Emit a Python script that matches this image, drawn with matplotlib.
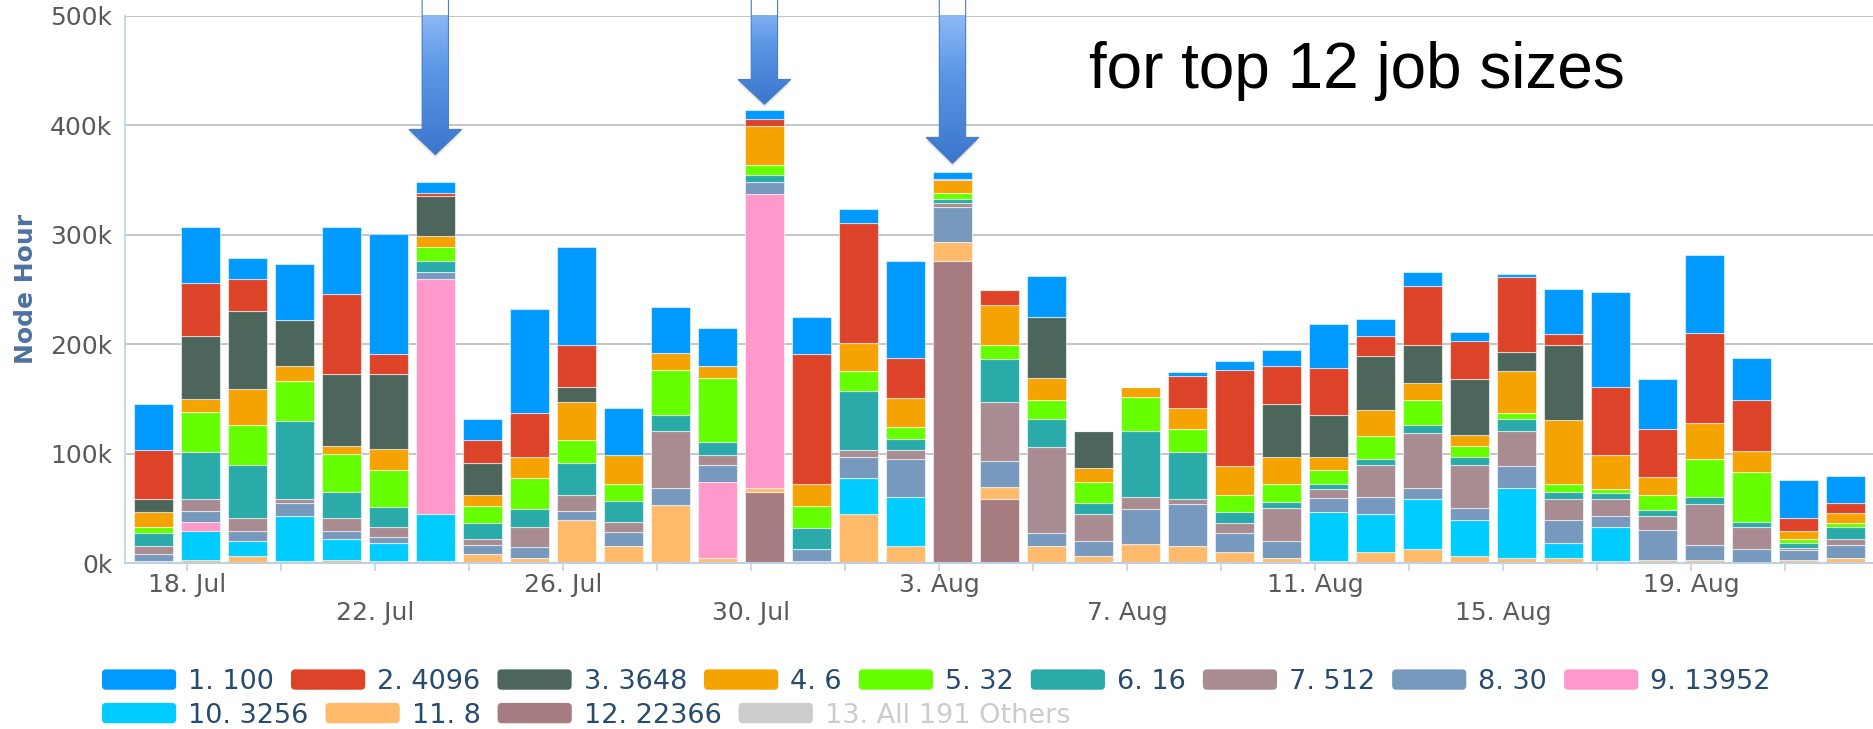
import numpy as np
import matplotlib
matplotlib.use('Agg')
import matplotlib.pyplot as plt
from matplotlib.patches import Polygon, FancyBboxPatch, Patch
from matplotlib.legend_handler import HandlerPatch
from matplotlib.colors import LinearSegmentedColormap

# Daily node hours (in thousands) per job size, 17 Jul .. 22 Aug (37 days)
h100 = [41.4, 51.1, 19, 51.3, 61.4, 109.4, 9.9, 18.7, 95.1, 89.1, 43.5, 41.8, 35, 7.4, 33.9, 13.6, 88.5, 5.8, 0,
        37.7, 0, 0, 3.7, 8.3, 14.5, 39.6, 15.7, 13.6, 8.5, 3, 40.8, 86.6, 45.3, 71.6, 38.7, 34.6, 24.5]
h4096 = [45.3, 48.3, 29, 0, 72.9, 18.2, 2.5, 21.1, 39.8, 38.3, 0, 0, 0, 6.6, 118.6, 108.8, 37.2, 1.5, 12.9,
         0, 0, 0, 29.4, 88.2, 35, 43.7, 18.9, 53.5, 34.9, 68.7, 10.6, 62.5, 44.4, 81.7, 46.9, 12.2, 9.8]
h3648 = [12, 57.5, 71.2, 42, 65.8, 68.9, 36.8, 29.1, 0, 13.8, 0, 0, 0, 0, 0, 0, 0, 0, 0,
         55.4, 34.6, 0, 0, 0, 48.1, 38, 49, 34.6, 50.5, 17.4, 68.8, 0, 0, 0, 0, 0, 0]
h6 = [13.7, 12, 33.1, 13.5, 7.1, 19.3, 10.6, 10.1, 19.3, 34.9, 26, 15.6, 10.4, 36.2, 20.5, 26.4, 26.1, 11.4, 36.9,
      20.5, 12.3, 8.6, 19, 26, 24.5, 12.3, 23.9, 15.6, 10.1, 38.3, 57.9, 30.9, 15.9, 33.1, 19.3, 7.4, 8.5]
h32 = [5.2, 36.7, 36.2, 36.7, 34.6, 33, 12.1, 16, 28.2, 20.8, 15.6, 41.6, 59.1, 9.1, 19.6, 17.8, 10.7, 5.5, 12.9,
       17.8, 19.3, 31.2, 21.1, 16, 16.3, 12.2, 20.9, 23, 10.4, 5.5, 7.1, 3.7, 13.8, 34.9, 45, 3, 4.3]
h16 = [12, 43.2, 49, 71.1, 24.5, 19, 10.5, 14.4, 16.8, 29.4, 19, 14.1, 12, 6, 19, 53.6, 10.1, 3.6, 39.2,
       25.4, 10.1, 60.7, 43.2, 10.1, 6.1, 4.9, 5.2, 7.1, 7.1, 10.1, 7, 5.5, 5.5, 6.4, 5.2, 4.9, 10.8]
h512 = [6.7, 10.4, 11.9, 3.4, 11.9, 8.9, 0, 4.9, 17.5, 14.1, 9.2, 51.8, 8.6, 0, 0, 6.7, 8.6, 3.6, 53.9,
        78.1, 24.5, 10.4, 4.6, 8.5, 29.7, 7.7, 29.7, 49.9, 39.8, 32.8, 19, 15.3, 12.3, 36.8, 19.3, 1.5, 4.9]
h30 = [6.8, 10.1, 8.3, 12.2, 7.1, 4.9, 6.4, 8.2, 10.1, 8.6, 13.2, 15.6, 15.6, 11.4, 11.7, 19.3, 34.9, 32, 23.9,
       12.3, 13.5, 32.4, 38.3, 17.5, 15.3, 13.5, 15.3, 10.7, 10.4, 19.3, 20.5, 10.4, 27.5, 13.7, 13.2, 9.2, 11.9]
h13952 = [0, 8.6, 0, 0, 0, 0, 214.5, 0, 0, 0, 0, 0, 69.2, 267.7, 0, 0, 0, 0, 0,
          0, 0, 0, 0, 0, 0, 0, 0, 0, 0, 0, 0, 0, 0, 0, 0, 0, 0]
h3256 = [0, 26, 13.8, 41.4, 18.6, 17.2, 43.2, 0, 0, 0, 0, 0, 0, 0, 0, 32.8, 44.7, 0, 0,
         0, 0, 0, 0, 0, 0, 44.7, 34.6, 45, 32.8, 64, 13.8, 31, 0, 0, 0, 0, 0]
h8 = [1.8, 3.1, 6.7, 1.5, 3.1, 1.5, 1.5, 8.6, 4.9, 39.2, 15.3, 53.3, 4.9, 3.7, 1.5, 44.7, 15.3, 17.3, 11,
      15.3, 6.7, 17.2, 15.3, 10.1, 4.9, 1.5, 10.1, 13.2, 6.7, 4.9, 4.9, 1.5, 3.1, 3.1, 0, 3.1, 4.9]
h22366 = [0, 0, 0, 0, 0, 0, 0, 0, 0, 0, 0, 0, 0, 65.2, 0, 0, 0, 276.1, 58.2,
          0, 0, 0, 0, 0, 0, 0, 0, 0, 0, 0, 0, 0, 0, 0, 0, 0, 0]

series = [h100, h4096, h3648, h6, h32, h16, h512, h30, h13952, h3256, h8, h22366]
labels = ['1. 100', '2. 4096', '3. 3648', '4. 6', '5. 32', '6. 16', '7. 512', '8. 30',
          '9. 13952', '10. 3256', '11. 8', '12. 22366', '13. All 191 Others']
colors = ['#0099FF', '#DD4328', '#4D665B', '#F5A300', '#66FF00', '#2BAAAA', '#A88C91', '#7799BD',
          '#FF99CC', '#00CCFF', '#FFBB6B', '#A67C80', '#CCCCCC']

# tick marks every 2 days from 18 Jul; labelled every 4 days, staggered in two rows
tick_days = list(range(1, 37, 2))
tick_labels = ['18. Jul', '', '\n22. Jul', '', '26. Jul', '', '\n30. Jul', '', '3. Aug', '',
               '\n7. Aug', '', '11. Aug', '', '\n15. Aug', '', '19. Aug', '']
day_offset = 0.285  # bars sit a few hours after midnight

# arrows: (bar index, tip value, head base value)
arrows = [(6, 373, 396), (13, 419, 441.6), (17, 365, 388.7)]

fig = plt.figure(figsize=(18.74, 7.29), dpi=100)
ax = fig.add_axes([0.0667, 0.2277, 0.9333, 0.7510])

x = np.arange(len(h100))
bottom = np.zeros(len(x))
for vals, c in reversed(list(zip(series, colors[:12]))):
    vals = np.array(vals, dtype=float)
    ax.bar(x, vals, bottom=bottom, width=0.83, color=c, edgecolor=(1, 1, 1, 0.55), linewidth=0.8, zorder=2)
    bottom += vals

# gradient arrows with a soft shadow under the head
arrow_cmap = LinearSegmentedColormap.from_list('arr', ['#3A76CC', '#5C97E6', '#A9CDFF'])
grad = np.linspace(0, 1, 256).reshape(-1, 1)
for idx, tip, base in arrows:
    top, sw, hw = 530, 0.28, 0.56
    for k in range(1, 4):
        d = 1.2 * k
        shadow = Polygon([(idx - hw, base - d), (idx, tip - d), (idx + hw, base - d)], closed=True,
                         facecolor='#000000', alpha=0.05, edgecolor='none', clip_on=False, zorder=4)
        ax.add_patch(shadow)
    pts = [(idx - sw, top), (idx - sw, base), (idx - hw, base), (idx, tip),
           (idx + hw, base), (idx + sw, base), (idx + sw, top)]
    poly = Polygon(pts, closed=True, facecolor='none', edgecolor='#4A7CC4', lw=0.8, clip_on=False, zorder=6)
    ax.add_patch(poly)
    im = ax.imshow(grad, extent=[idx - hw, idx + hw, tip, top], origin='lower', cmap=arrow_cmap,
                   aspect='auto', zorder=5)
    im.set_clip_path(poly)
    im.set_clip_box(None)

ax.set_xlim(-0.6, 36.6)
ax.set_ylim(0, 500)
ax.set_yticks(range(0, 501, 100))
ax.set_yticklabels(['%dk' % v for v in range(0, 501, 100)])
ax.set_xticks([d - day_offset for d in tick_days])
ax.set_xticklabels(tick_labels)

ax.grid(axis='y', color='#C0C0C0', lw=1.3)
ax.set_axisbelow(True)
for s in ['top', 'right']:
    ax.spines[s].set_visible(False)
ax.spines['left'].set_color('#C8D6E6')
ax.spines['left'].set_linewidth(1.4)
ax.spines['bottom'].set_color('#C0D0E0')
ax.spines['bottom'].set_linewidth(1.5)
ax.tick_params(axis='y', length=0, pad=9, labelsize=18, labelcolor='#5A5A5A')
ax.tick_params(axis='x', length=6, width=1.1, color='#C0D0E0', pad=1, labelsize=18, labelcolor='#5A5A5A')

ax.set_ylabel('Node Hour', fontsize=18, fontweight='bold', color='#4D72A0')
ax.yaxis.set_label_coords(-0.050, 0.5)

fig.text(0.581, 0.879, 'for top 12 job sizes', fontsize=46, family='Liberation Sans', va='baseline')


class RoundSwatch(HandlerPatch):
    def create_artists(self, legend, orig_handle, xdescent, ydescent, width, height, fontsize, trans):
        p = FancyBboxPatch((-xdescent, -ydescent), width, height, boxstyle='round,pad=0,rounding_size=3',
                           facecolor=orig_handle.get_facecolor(), edgecolor='none', transform=trans)
        return [p]


handles = [Patch(facecolor=c) for c in colors]
leg_kw = dict(loc='center left', frameon=False, fontsize=19.5, handlelength=2.74, handleheight=0.78,
              handletextpad=0.44, columnspacing=0.63, borderpad=0, borderaxespad=0,
              labelcolor='#274B6D', handler_map={Patch: RoundSwatch()})
fig.legend(handles[:9], labels[:9], ncol=9, bbox_to_anchor=(0.0544, 0.0645), **leg_kw)
leg2 = fig.legend(handles[9:], labels[9:], ncol=4, bbox_to_anchor=(0.0544, 0.0185), **leg_kw)
leg2.get_texts()[3].set_color('#CCCCCC')

fig.savefig('out.png', dpi=100)
